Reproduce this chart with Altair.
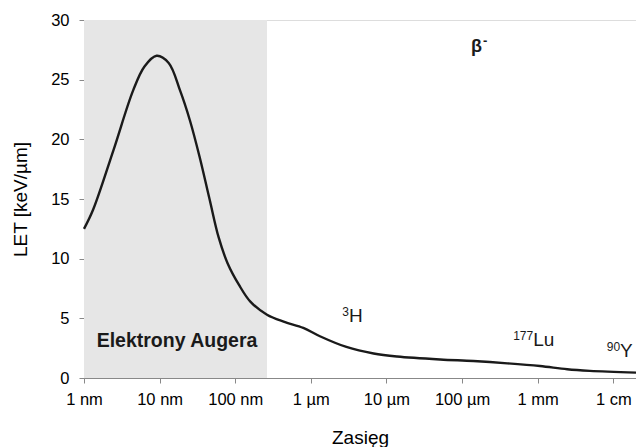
import altair as alt
import pandas as pd

# X axis: range as log10(range / 1 nm)
tick_values = [0, 1, 2, 3, 4, 5, 6, 7]
tick_labels = ["1 nm", "10 nm", "100 nm", "1 µm", "10 µm", "100 µm", "1 mm", "1 cm"]

range_log = [0.0, 0.12, 0.39, 0.65, 0.80, 0.96, 1.12, 1.27, 1.40, 1.53, 1.66, 1.78,
             1.90, 2.05, 2.20, 2.42, 2.65, 2.90, 3.12, 3.47, 3.83, 4.14, 4.71, 5.15,
             5.6, 6.03, 6.39, 6.69, 7.30]
let_vals = [12.5, 14.1, 19.1, 24.1, 26.1, 27.0, 26.4, 24.1, 21.6, 18.5, 15.0, 11.8,
            9.6, 7.8, 6.4, 5.3, 4.7, 4.2, 3.5, 2.6, 2.05, 1.8, 1.55, 1.42,
            1.23, 1.0, 0.73, 0.6, 0.45]

auger_start = [0.0]
auger_end = [2.42]

# Annotations (data coordinates): superscript + base text split at anchor
iso_sup = ["3", "177", "90"]
iso_base = ["H", "Lu", "Y"]
iso_x = [3.505, 5.94, 7.09]
iso_y = [5.2, 3.2, 2.25]

x_max = 7.30
W, H = 552, 358

curve = pd.DataFrame({"x": range_log, "y": let_vals})
shade = pd.DataFrame({"x": auger_start, "x2": auger_end, "y": [0], "y2": [30]})
iso = pd.DataFrame({"sup": iso_sup, "base": iso_base, "x": iso_x, "y": iso_y})

label_expr = "[" + ",".join("'" + t + "'" for t in tick_labels) + "][datum.value]"

xscale = alt.Scale(domain=[0, x_max], nice=False, zero=False)
yscale = alt.Scale(domain=[0, 30], nice=False)

xaxis = alt.Axis(values=tick_values, labelExpr=label_expr, grid=False,
                 title="Zasięg", titleFontSize=19, titleFontWeight="normal",
                 titlePadding=21, labelFontSize=16.5, labelPadding=8, tickSize=5,
                 labelFlush=False)
yaxis = alt.Axis(values=[0, 5, 10, 15, 20, 25, 30], grid=False,
                 title="LET [keV/µm]", titleFontSize=19, titleFontWeight="normal",
                 titlePadding=20, labelFontSize=16.5, labelPadding=10, tickSize=5)

rect = alt.Chart(shade).mark_rect(color="#e6e6e6").encode(
    x=alt.X("x:Q", scale=xscale, axis=xaxis),
    x2="x2",
    y=alt.Y("y:Q", scale=yscale, axis=yaxis),
    y2="y2",
)

line = alt.Chart(curve).mark_line(color="#1a1a1a", strokeWidth=2.4,
                                  interpolate="catmull-rom").encode(
    x=alt.X("x:Q", scale=xscale),
    y=alt.Y("y:Q", scale=yscale),
)

base_txt = alt.Chart(iso).mark_text(align="left", baseline="middle", fontSize=19,
                                    color="#1a1a1a").encode(
    x=alt.X("x:Q", scale=xscale), y=alt.Y("y:Q", scale=yscale), text="base:N")
sup_txt = alt.Chart(iso).mark_text(align="right", baseline="middle", fontSize=12,
                                   dy=-4, color="#1a1a1a").encode(
    x=alt.X("x:Q", scale=xscale), y=alt.Y("y:Q", scale=yscale), text="sup:N")

beta = pd.DataFrame({"t": ["β"], "s": ["-"], "x": [5.265], "y": [27.7]})
beta_txt = alt.Chart(beta).mark_text(align="right", baseline="middle", fontSize=18,
                                     fontWeight="bold", color="#1a1a1a").encode(
    x=alt.X("x:Q", scale=xscale), y=alt.Y("y:Q", scale=yscale), text="t:N")
beta_sup = alt.Chart(beta).mark_text(align="left", baseline="middle", fontSize=13,
                                     fontWeight="bold", dx=1, dy=-6,
                                     color="#1a1a1a").encode(
    x=alt.X("x:Q", scale=xscale), y=alt.Y("y:Q", scale=yscale), text="s:N")

auger = pd.DataFrame({"t": ["Elektrony Augera"], "x": [1.23], "y": [3.1]})
auger_txt = alt.Chart(auger).mark_text(align="center", baseline="middle", fontSize=19.5,
                                       fontWeight="bold", color="#1a1a1a").encode(
    x=alt.X("x:Q", scale=xscale), y=alt.Y("y:Q", scale=yscale), text="t:N")

chart = alt.layer(rect, line, base_txt, sup_txt, beta_txt, beta_sup, auger_txt).properties(
    width=W, height=H,
    autosize=alt.AutoSizeParams(type="none"),
    padding={"left": 76, "top": 12, "right": 0, "bottom": 69},
).configure_view(stroke=None).configure_axis(
    domainColor="#a6a6a6", tickColor="#a6a6a6", labelColor="#1a1a1a",
    titleColor="#1a1a1a", labelFont="Liberation Sans", titleFont="Liberation Sans",
).configure_text(font="Liberation Sans").configure(background="white")

chart.save("out.html", embed_options={"renderer": "svg", "actions": False})
